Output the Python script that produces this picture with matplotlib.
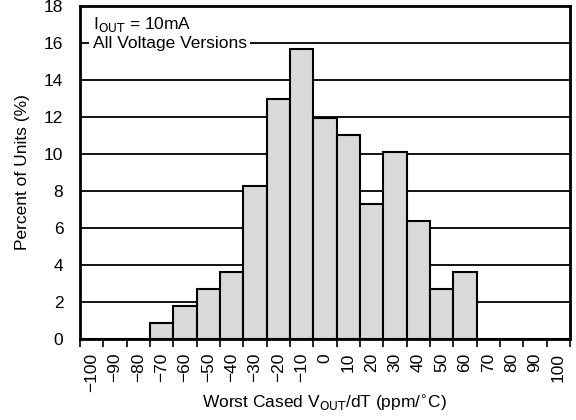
import matplotlib
matplotlib.use("Agg")
import matplotlib.pyplot as plt
import numpy as np

plt.rcParams['font.family'] = ['Liberation Sans', 'DejaVu Sans']

# bin centres (ppm/°C) and percent of units
bins = [-100, -90, -80, -70, -60, -50, -40, -30, -20, -10, 0,
        10, 20, 30, 40, 50, 60, 70, 80, 90, 100]
percent = [0, 0, 0, 0.85, 1.8, 2.7, 3.6, 8.25, 12.95, 15.7, 11.95,
           11.05, 7.3, 10.1, 6.4, 2.7, 3.6, 0, 0, 0, 0]
yticks = [0, 2, 4, 6, 8, 10, 12, 14, 16, 18]

fs = 12.5

fig = plt.figure(figsize=(5.76, 4.2), dpi=100)
ax = fig.add_axes([80/576, 1-339/420, 490/576, 333/420])

ind = np.arange(len(bins))
ax.bar(ind, percent, width=1.0, color='#d9d9d9', edgecolor='black',
       linewidth=1.5, zorder=3)

ax.set_xlim(-0.5, len(bins) - 0.5)
ax.set_ylim(0, 18)
ax.set_yticks(yticks)
ax.tick_params(axis='y', length=0, labelsize=fs, pad=12)
ax.yaxis.grid(True, color='black', linewidth=1.3, zorder=0)
ax.set_axisbelow(True)

ax.set_xticks(ind)
ax.set_xticklabels([str(b).replace('-', '\u2212') for b in bins], rotation=90)
ax.set_xticks(np.arange(len(bins) + 1) - 0.5, minor=True)
ax.tick_params(axis='x', which='major', length=0, labelsize=fs, pad=10)
ax.tick_params(axis='x', which='minor', length=6, width=1.2, direction='out')

for s in ax.spines.values():
    s.set_linewidth(2)

ax.set_ylabel('Percent of Units (%)', fontsize=fs, labelpad=10)
ax.set_xlabel(r'Worst Cased V$_{\mathrm{OUT}}$/dT (ppm/$^{\circ}$C)', fontsize=fs,
              labelpad=1)

ax.text(0.05, 17.0, r'I$_{\mathrm{OUT}}$ = 10mA', fontsize=fs,
        va='center', ha='left', zorder=5)
ax.text(0.05, 15.95, 'All Voltage Versions', fontsize=fs, va='center', ha='left',
        zorder=5, bbox=dict(facecolor='white', edgecolor='none', pad=2.5))

plt.savefig('out.png', dpi=100)
